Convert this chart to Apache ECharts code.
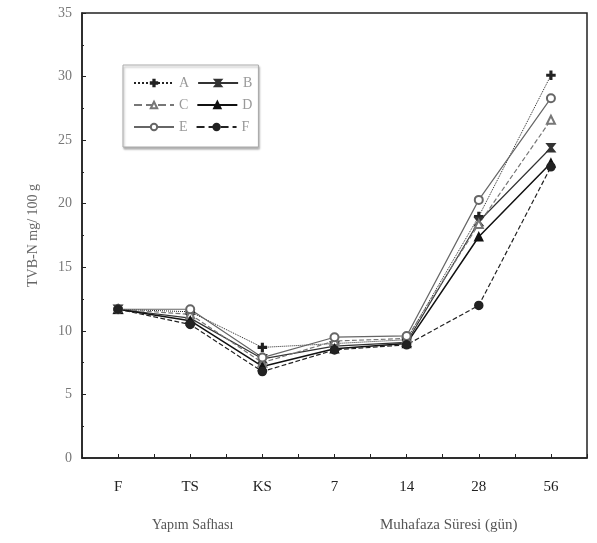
<!DOCTYPE html>
<html>
<head>
<meta charset="utf-8">
<script src="https://cdn.jsdelivr.net/npm/echarts@6/dist/echarts.min.js"></script>
<style>
  html, body { margin: 0; padding: 0; background: #fff; }
  #chart { width: 597px; height: 543px; }
</style>
</head>
<body>
<div id="chart"></div>
<script>
const categories = ['F', 'TS', 'KS', '7', '14', '28', '56']
const seriesA = [11.7, 11.5, 8.7, 9.0, 9.3, 19.0, 30.1]
const seriesB = [11.7, 11.0, 7.8, 8.8, 9.1, 18.6, 24.4]
const seriesC = [11.7, 11.3, 7.5, 9.2, 9.4, 18.4, 26.6]
const seriesD = [11.7, 10.8, 7.2, 8.6, 9.0, 17.4, 23.2]
const seriesE = [11.7, 11.7, 7.9, 9.5, 9.6, 20.3, 28.3]
const seriesF = [11.7, 10.5, 6.8, 8.5, 8.9, 12.0, 22.9]
const yTicks = [0, 5, 10, 15, 20, 25, 30, 35]

const serif = 'Liberation Serif'
const plus = 'path://M4,0H6V4H10V6H6V10H4V6H0V4H4Z'
const hourglass = 'path://M0,0H10L6,5L10,10H0L4,5Z'

const defs = [
  { name: 'A', data: seriesA, symbol: plus, size: 8, color: '#222', type: 'dotted', width: 1 },
  { name: 'B', data: seriesB, symbol: hourglass, size: 8, color: '#333', type: 'solid', width: 1.2 },
  { name: 'C', data: seriesC, symbol: 'emptyTriangle', size: 8, color: '#777', type: 'dashed', width: 1.2 },
  { name: 'D', data: seriesD, symbol: 'triangle', size: 8, color: '#111', type: 'solid', width: 1.5 },
  { name: 'E', data: seriesE, symbol: 'emptyCircle', size: 8, color: '#666', type: 'solid', width: 1.2 },
  { name: 'F', data: seriesF, symbol: 'circle', size: 8, color: '#222', type: 'dashed', width: 1.2 },
]

const chart = echarts.init(document.getElementById('chart'))
chart.setOption({
  animation: false,
  textStyle: { fontFamily: serif },
  grid: {
    left: 82, right: 10, top: 13, bottom: 85,
    show: true, borderColor: '#222', borderWidth: 1.5,
  },
  legend: {
    left: 123, top: 65, width: 126,
    padding: [11, 6, 13, 10],
    itemWidth: 40, itemHeight: 8, itemGap: 8,
    borderColor: '#aaa', borderWidth: 1,
    shadowColor: 'rgba(0,0,0,0.3)', shadowBlur: 2, shadowOffsetX: 1, shadowOffsetY: 2,
    backgroundColor: '#fff',
    textStyle: { fontFamily: serif, fontSize: 14, color: '#999' },
    data: defs.map(d => d.name),
  },
  xAxis: [
    {
      type: 'category',
      data: categories,
      boundaryGap: true,
      axisLine: { lineStyle: { color: '#222', width: 1.5 } },
      axisTick: { show: false },
      axisLabel: { fontFamily: serif, fontSize: 15, color: '#222', margin: 22 },
    },
    {
      type: 'value',
      position: 'bottom',
      min: 0, max: 14, interval: 1,
      axisLine: { show: false },
      axisTick: { show: true, inside: true, length: 4, lineStyle: { color: '#222' } },
      axisLabel: { show: false },
      splitLine: { show: false },
    },
  ],
  yAxis: {
    type: 'value',
    min: yTicks[0], max: yTicks[yTicks.length - 1], interval: 5,
    name: 'TVB-N mg/ 100 g',
    nameLocation: 'middle', nameGap: 42,
    nameTextStyle: { fontFamily: serif, fontSize: 14, color: '#666' },
    axisLine: { show: true, lineStyle: { color: '#222', width: 1.5 } },
    axisTick: { show: true, inside: true, length: 4, lineStyle: { color: '#222' } },
    minorTick: { show: true, splitNumber: 2, length: 2, lineStyle: { color: '#222' } },
    axisLabel: { fontFamily: serif, fontSize: 14, color: '#777', margin: 10 },
    splitLine: { show: false },
  },
  graphic: [
    { type: 'text', left: 152, top: 518, style: { text: 'Yapım Safhası', fontFamily: serif, fontSize: 14, fill: '#555' } },
    { type: 'text', left: 380, top: 518, style: { text: 'Muhafaza Süresi (gün)', fontFamily: serif, fontSize: 15, fill: '#555' } },
  ],
  series: defs.map(d => ({
    name: d.name,
    type: 'line',
    xAxisIndex: 0,
    data: d.data,
    symbol: d.symbol,
    symbolSize: d.size,
    color: d.color,
    itemStyle: { color: d.color, borderColor: d.color, borderWidth: 1.5 },
    lineStyle: { color: d.color, type: d.type, width: d.width },
  })),
})
</script>
</body>
</html>
